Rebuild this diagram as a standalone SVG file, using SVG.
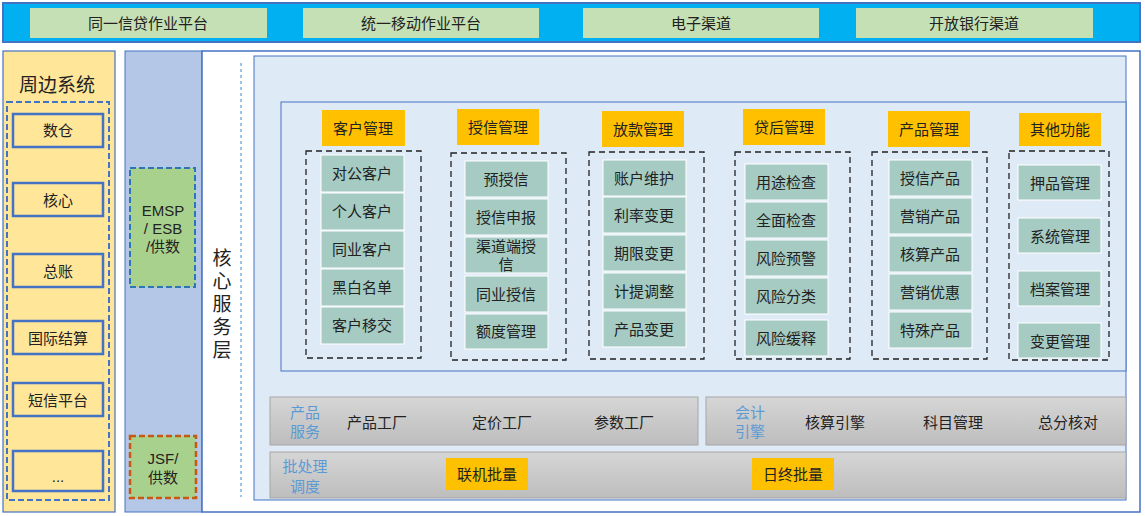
<svg xmlns="http://www.w3.org/2000/svg" width="1145" height="516" viewBox="0 0 1145 516">
<defs>
<linearGradient id="g" x1="0" y1="0" x2="0" y2="1"><stop offset="0" stop-color="#d6d6d6"/><stop offset="1" stop-color="#bdbdbd"/></linearGradient>
<style>
text{font-family:"Liberation Sans","Noto Sans CJK SC",sans-serif;font-size:15px;fill:#222;text-anchor:middle;dominant-baseline:central}
.top{fill:#C5E0B4}
.hd{fill:#FFC000}
.it{fill:#A5CBC2;stroke:#fff;stroke-width:1}
.dash{fill:none;stroke:#222;stroke-width:1.3;stroke-dasharray:6,4}
.sys{fill:#FFE699;stroke:#4472C4;stroke-width:2.5}
.blue{fill:#5B9BD5}
</style>
</defs>
<rect x="3" y="3" width="1137" height="39" fill="#00B0F0" stroke="#4472C4" stroke-width="2"/>
<g id="top1"><rect class="top" x="30" y="8" width="237" height="30"/><text x="148" y="23">同一信贷作业平台</text></g>
<g id="top2"><rect class="top" x="303" y="8" width="236" height="30"/><text x="421" y="23">统一移动作业平台</text></g>
<g id="top3"><rect class="top" x="583" y="8" width="236" height="30"/><text x="701" y="23">电子渠道</text></g>
<g id="top4"><rect class="top" x="856" y="8" width="237" height="30"/><text x="974" y="23">开放银行渠道</text></g>

<g id="peri">
<rect x="3" y="51" width="112" height="461" fill="#FFE699" stroke="#4472C4" stroke-width="1.2"/>
<text x="57" y="85" style="font-size:19px">周边系统</text>
<rect x="7" y="102" width="102" height="398" fill="none" stroke="#4472C4" stroke-width="2" stroke-dasharray="6,3"/>
<rect class="sys" x="13" y="114" width="90" height="33"/><text x="58" y="130">数仓</text>
<rect class="sys" x="13" y="183" width="90" height="33"/><text x="58" y="200">核心</text>
<rect class="sys" x="13" y="254" width="90" height="33"/><text x="58" y="271">总账</text>
<rect class="sys" x="13" y="321" width="90" height="33"/><text x="58" y="338">国际结算</text>
<rect class="sys" x="13" y="383" width="90" height="33"/><text x="58" y="400">短信平台</text>
<rect class="sys" x="13" y="451" width="90" height="40"/><text x="58" y="476">...</text>
</g>

<g id="bus">
<rect x="125" y="51" width="77" height="461" fill="#B4C7E7" stroke="#4472C4" stroke-width="1"/>
<rect x="130" y="168" width="65" height="119" fill="#A9D18E" stroke="#2E75B6" stroke-width="2" stroke-dasharray="6,3"/>
<text x="163" y="210">EMSP</text><text x="163" y="228">/  ESB</text><text x="163" y="246">/供数</text>
<rect x="130" y="436" width="66" height="62" fill="#A9D18E" stroke="#C55A11" stroke-width="2.5" stroke-dasharray="6,3"/>
<text x="163" y="458">JSF/</text><text x="163" y="477">供数</text>
</g>

<g id="core">
<rect x="202" y="51" width="938" height="461" fill="#fff" stroke="#4472C4" stroke-width="1.5"/>
<line x1="241" y1="63" x2="241" y2="497" stroke="#9DC3E6" stroke-width="2" stroke-dasharray="3,3"/>
<text x="222" y="258" style="font-size:19px">核</text><text x="222" y="281" style="font-size:19px">心</text><text x="222" y="304" style="font-size:19px">服</text><text x="222" y="327" style="font-size:19px">务</text><text x="222" y="350" style="font-size:19px">层</text>
<rect x="254" y="56" width="872" height="444" fill="#DEEBF7" stroke="#4472C4" stroke-width="1"/>
<rect x="281" y="102" width="845" height="269" fill="#DEEBF7" stroke="#4472C4" stroke-width="1"/>
</g>

<g id="cust">
<rect class="hd" x="322" y="110" width="83" height="36"/><text x="363" y="128">客户管理</text>
<rect class="dash" x="306" y="151" width="115" height="207"/>
<rect class="it" x="321" y="155" width="83" height="37"/><text x="362" y="173">对公客户</text>
<rect class="it" x="321" y="193" width="83" height="37"/><text x="362" y="211">个人客户</text>
<rect class="it" x="321" y="231" width="83" height="37"/><text x="362" y="249">同业客户</text>
<rect class="it" x="321" y="269" width="83" height="37"/><text x="362" y="287">黑白名单</text>
<rect class="it" x="321" y="307" width="83" height="37"/><text x="362" y="325">客户移交</text>
</g>
<g id="credit">
<rect class="hd" x="457" y="109" width="82" height="36"/><text x="498" y="127">授信管理</text>
<rect class="dash" x="451" y="153" width="115" height="207"/>
<rect class="it" x="465" y="161" width="83" height="36"/><text x="506" y="179">预授信</text>
<rect class="it" x="465" y="199" width="83" height="36"/><text x="506" y="217">授信申报</text>
<rect class="it" x="465" y="237" width="83" height="36"/><text x="506" y="246">渠道端授</text><text x="506" y="264">信</text>
<rect class="it" x="465" y="276" width="83" height="36"/><text x="506" y="294">同业授信</text>
<rect class="it" x="465" y="314" width="83" height="35"/><text x="506" y="331">额度管理</text>
</g>
<g id="loan">
<rect class="hd" x="602" y="111" width="82" height="36"/><text x="643" y="129">放款管理</text>
<rect class="dash" x="589" y="152" width="115" height="207"/>
<rect class="it" x="603" y="160" width="83" height="36"/><text x="644" y="178">账户维护</text>
<rect class="it" x="603" y="197" width="83" height="36"/><text x="644" y="215">利率变更</text>
<rect class="it" x="603" y="235" width="83" height="36"/><text x="644" y="253">期限变更</text>
<rect class="it" x="603" y="273" width="83" height="36"/><text x="644" y="291">计提调整</text>
<rect class="it" x="603" y="311" width="83" height="36"/><text x="644" y="329">产品变更</text>
</g>
<g id="post">
<rect class="hd" x="743" y="109" width="82" height="36"/><text x="784" y="127">贷后管理</text>
<rect class="dash" x="735" y="152" width="115" height="207"/>
<rect class="it" x="745" y="164" width="83" height="36"/><text x="786" y="182">用途检查</text>
<rect class="it" x="745" y="202" width="83" height="36"/><text x="786" y="220">全面检查</text>
<rect class="it" x="745" y="240" width="83" height="36"/><text x="786" y="258">风险预警</text>
<rect class="it" x="745" y="278" width="83" height="36"/><text x="786" y="296">风险分类</text>
<rect class="it" x="745" y="320" width="83" height="36"/><text x="786" y="338">风险缓释</text>
</g>
<g id="prod">
<rect class="hd" x="888" y="111" width="82" height="36"/><text x="929" y="129">产品管理</text>
<rect class="dash" x="872" y="152" width="115" height="207"/>
<rect class="it" x="889" y="160" width="83" height="36"/><text x="930" y="178">授信产品</text>
<rect class="it" x="889" y="198" width="83" height="36"/><text x="930" y="216">营销产品</text>
<rect class="it" x="889" y="236" width="83" height="36"/><text x="930" y="254">核算产品</text>
<rect class="it" x="889" y="274" width="83" height="36"/><text x="930" y="292">营销优惠</text>
<rect class="it" x="889" y="312" width="83" height="36"/><text x="930" y="330">特殊产品</text>
</g>
<g id="other">
<rect class="hd" x="1019" y="113" width="82" height="33"/><text x="1060" y="129">其他功能</text>
<rect class="dash" x="1009" y="151" width="100" height="209"/>
<rect class="it" x="1018" y="165" width="83" height="35"/><text x="1060" y="183">押品管理</text>
<rect class="it" x="1018" y="218" width="83" height="35"/><text x="1060" y="236">系统管理</text>
<rect class="it" x="1018" y="271" width="83" height="35"/><text x="1060" y="289">档案管理</text>
<rect class="it" x="1018" y="323" width="83" height="35"/><text x="1060" y="341">变更管理</text>
</g>

<g id="prodsvc">
<rect x="270" y="397" width="428" height="48" fill="url(#g)" stroke="#A6A6A6"/>
<text class="blue" x="305" y="412">产品</text><text class="blue" x="305" y="431">服务</text>
<text x="377" y="422">产品工厂</text><text x="502" y="422">定价工厂</text><text x="624" y="422">参数工厂</text>
</g>
<g id="acct">
<rect x="706" y="397" width="420" height="48" fill="url(#g)" stroke="#A6A6A6"/>
<text class="blue" x="750" y="412">会计</text><text class="blue" x="750" y="431">引擎</text>
<text x="835" y="422">核算引擎</text><text x="953" y="422">科目管理</text><text x="1068" y="422">总分核对</text>
</g>
<g id="batch">
<rect x="270" y="452" width="856" height="46" fill="url(#g)" stroke="#A6A6A6"/>
<text class="blue" x="305" y="466">批处理</text><text class="blue" x="305" y="486">调度</text>
<rect class="hd" x="446" y="458" width="82" height="32"/><text x="487" y="474">联机批量</text>
<rect class="hd" x="752" y="458" width="82" height="32"/><text x="793" y="474">日终批量</text>
</g>
<g id="connectors"></g>
</svg>
